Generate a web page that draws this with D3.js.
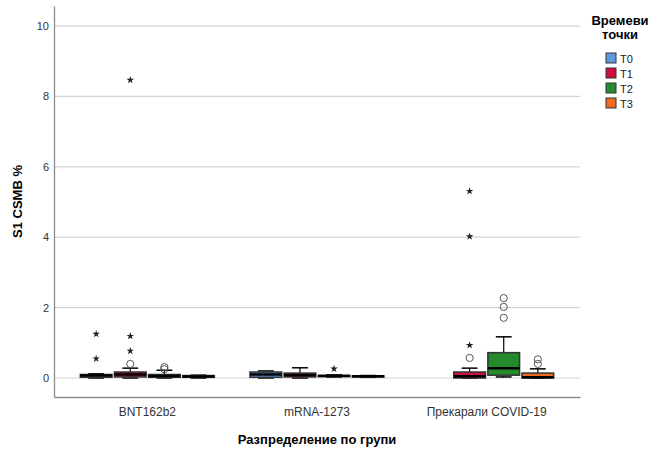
<!doctype html>
<html lang="bg">
  <head>
    <meta charset="utf-8">
    <style>
    body { margin: 0; background: #fff; }
    text { font-family: "Liberation Sans", Arial, sans-serif; }
    .grid line { stroke: #d4d4d4; stroke-width: 1.2px; }
    </style>
    <title>S1 CSMB %</title>
  </head>
  <body>
    <div id="content"></div>

    <script src="https://d3js.org/d3.v7.min.js"></script>
    <script type="text/javascript">
    var w = 653;
    var h = 453;

    var groups = ['BNT162b2', 'mRNA-1273', 'Прекарали COVID-19'];
    var times = ['T0', 'T1', 'T2', 'T3'];
    var colors = ['#5a9be3', '#d10f3c', '#238b2b', '#f26a22'];
    var yTicks = [0, 2, 4, 6, 8, 10];

    // [min whisker, q1, median, q3, max whisker], one row per group, one per time point
    var boxStats = [
      [[0.0, 0.02, 0.07, 0.1, 0.12], [0.0, 0.03, 0.1, 0.17, 0.28], [0.0, 0.02, 0.06, 0.1, 0.22], [0.0, 0.02, 0.04, 0.07, 0.08]],
      [[0.0, 0.02, 0.1, 0.17, 0.2], [0.0, 0.03, 0.08, 0.14, 0.29], [0.03, 0.05, 0.06, 0.07, 0.09], [0.02, 0.03, 0.05, 0.06, 0.07]],
      [null, [0.0, 0.0, 0.05, 0.17, 0.28], [0.03, 0.08, 0.28, 0.72, 1.17], [0.0, 0.0, 0.02, 0.14, 0.26]]
    ];
    // outliers drawn as circles
    var circleOutliers = [
      [[], [0.4], [0.25, 0.31], []],
      [[], [], [], []],
      [[], [0.57], [1.71, 2.02, 2.27], [0.4, 0.53]]
    ];
    // extremes drawn as stars
    var starOutliers = [
      [[0.55, 1.25], [0.77, 1.19, 8.47], [], []],
      [[], [], [0.26], []],
      [[], [0.93, 4.02, 5.31], [], []]
    ];

    var mLeft = 54, mRight = 580, mTop = 6, mBottom = 397;

    var svg = d3.select('#content')
                .append('svg')
                .attr('width', w)
                .attr('height', h);

    var yScale = d3.scaleLinear()
                   .domain([-0.54, 10.57])
                   .range([mBottom, mTop]);

    var xScale = d3.scaleBand()
                   .domain(groups)
                   .range([mLeft, mRight])
                   .paddingOuter(0.05);

    var bw = xScale.bandwidth();
    var xSub = d3.scaleBand()
                 .domain(times)
                 .range([bw / 2 - 67, bw / 2 + 67])
                 .paddingInner(0.07);

    // grid
    svg.append('g')
      .attr('class', 'grid')
      .selectAll('line')
      .data(yTicks)
      .join('line')
      .attr('x1', mLeft)
      .attr('x2', mRight)
      .attr('y1', d => yScale(d))
      .attr('y2', d => yScale(d));

    // y axis
    var yAxis = d3.axisLeft(yScale).tickValues(yTicks).tickSize(0).tickPadding(5);
    var gy = svg.append('g')
      .attr('transform', `translate(${mLeft}, 0)`)
      .call(yAxis);
    gy.select('.domain').attr('stroke', '#8c8c8c').attr('stroke-width', 1.3);
    gy.selectAll('text').attr('font-size', 11).attr('fill', '#333')
      .attr('font-family', '"Liberation Sans", Arial, sans-serif');

    // x axis
    var xAxis = d3.axisBottom(xScale).tickSize(0).tickPadding(10);
    var gx = svg.append('g')
      .attr('transform', `translate(0, ${mBottom})`)
      .call(xAxis);
    gx.select('.domain').attr('stroke', '#8c8c8c').attr('stroke-width', 1.3);
    gx.selectAll('text').attr('font-size', 12).attr('fill', '#333')
      .attr('font-family', '"Liberation Sans", Arial, sans-serif');

    // boxes
    var items = [];
    groups.forEach((g, gi) => {
      times.forEach((t, ti) => {
        items.push({g: g, t: t, ti: ti, s: boxStats[gi][ti],
                    circles: circleOutliers[gi][ti], stars: starOutliers[gi][ti]});
      });
    });

    var boxW = xSub.bandwidth();
    var capW = boxW * 0.5;

    var boxG = svg.append('g')
      .selectAll('g')
      .data(items)
      .join('g')
      .attr('transform', d => `translate(${xScale(d.g) + xSub(d.t)}, 0)`);

    var withBox = boxG.filter(d => d.s !== null);

    // whiskers
    withBox.append('line')
      .attr('x1', boxW / 2).attr('x2', boxW / 2)
      .attr('y1', d => yScale(d.s[3])).attr('y2', d => yScale(d.s[4]))
      .attr('stroke', '#000').attr('stroke-width', 1.2);
    withBox.append('line')
      .attr('x1', boxW / 2).attr('x2', boxW / 2)
      .attr('y1', d => yScale(d.s[0])).attr('y2', d => yScale(d.s[1]))
      .attr('stroke', '#000').attr('stroke-width', 1.2);
    withBox.append('line')
      .attr('x1', (boxW - capW) / 2).attr('x2', (boxW + capW) / 2)
      .attr('y1', d => yScale(d.s[4])).attr('y2', d => yScale(d.s[4]))
      .attr('stroke', '#000').attr('stroke-width', 1.5);
    withBox.append('line')
      .attr('x1', (boxW - capW) / 2).attr('x2', (boxW + capW) / 2)
      .attr('y1', d => yScale(d.s[0])).attr('y2', d => yScale(d.s[0]))
      .attr('stroke', '#000').attr('stroke-width', 1.5);

    withBox.append('rect')
      .attr('x', 0)
      .attr('width', boxW)
      .attr('y', d => yScale(d.s[3]))
      .attr('height', d => Math.max(yScale(d.s[1]) - yScale(d.s[3]), 1))
      .attr('fill', d => colors[d.ti])
      .attr('stroke', '#333')
      .attr('stroke-width', 1.5);

    withBox.append('line')
      .attr('x1', 0).attr('x2', boxW)
      .attr('y1', d => yScale(d.s[2])).attr('y2', d => yScale(d.s[2]))
      .attr('stroke', '#000').attr('stroke-width', 2.5);

    // outliers
    boxG.selectAll('circle')
      .data(d => d.circles)
      .join('circle')
      .attr('cx', boxW / 2)
      .attr('cy', d => yScale(d))
      .attr('r', 3.6)
      .attr('fill', 'none')
      .attr('stroke', '#555')
      .attr('stroke-width', 1);

    boxG.selectAll('path.star')
      .data(d => d.stars)
      .join('path')
      .attr('class', 'star')
      .attr('transform', d => `translate(${boxW / 2}, ${yScale(d)})`)
      .attr('d', d3.symbol().type(d3.symbolStar).size(18))
      .attr('fill', '#222');

    // axis titles
    svg.append('text')
      .attr('transform', `translate(22, ${(mTop + mBottom) / 2}) rotate(-90)`)
      .attr('text-anchor', 'middle')
      .attr('font-size', 13)
      .attr('font-weight', 'bold')
      .text('S1 CSMB %');

    svg.append('text')
      .attr('x', (mLeft + mRight) / 2)
      .attr('y', 444)
      .attr('text-anchor', 'middle')
      .attr('font-size', 13)
      .attr('font-weight', 'bold')
      .text('Разпределение по групи');

    // legend
    var legend = svg.append('g');
    legend.append('text')
      .attr('x', 620).attr('y', 25)
      .attr('text-anchor', 'middle')
      .attr('font-size', 13).attr('font-weight', 'bold')
      .text('Времеви');
    legend.append('text')
      .attr('x', 620).attr('y', 39)
      .attr('text-anchor', 'middle')
      .attr('font-size', 13).attr('font-weight', 'bold')
      .text('точки');

    var li = legend.selectAll('g.item')
      .data(times)
      .join('g')
      .attr('class', 'item')
      .attr('transform', (d, i) => `translate(606, ${53 + i * 15})`);
    li.append('rect')
      .attr('width', 10).attr('height', 10)
      .attr('fill', (d, i) => colors[i])
      .attr('stroke', '#333').attr('stroke-width', 1);
    li.append('text')
      .attr('x', 14).attr('y', 9.5)
      .attr('font-size', 11).attr('fill', '#222')
      .text(d => d);
    </script>
  </body>
</html>
